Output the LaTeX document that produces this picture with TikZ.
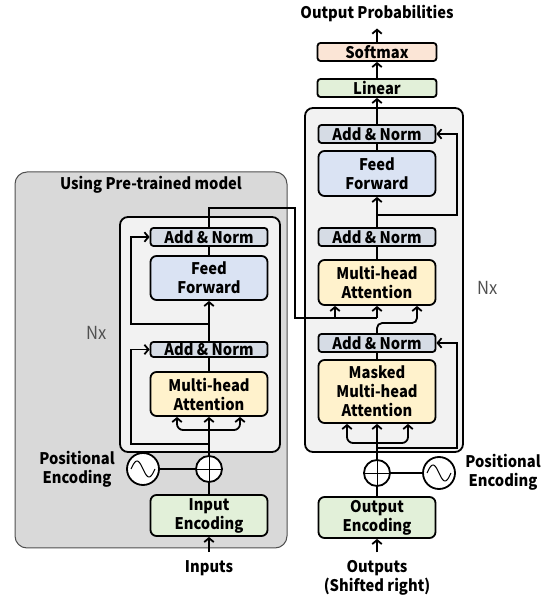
\documentclass[tikz,border=0pt]{standalone}
\usepackage{fontspec}
\setmainfont{Noto Sans CJK JP}[FakeStretch=0.92]
\usetikzlibrary{arrows.meta,positioning}

\definecolor{outergray}{HTML}{D9D9D9}
\definecolor{stackgray}{HTML}{F2F2F2}
\definecolor{normblue}{HTML}{D6DCE5}
\definecolor{ffblue}{HTML}{DAE3F3}
\definecolor{attnyellow}{HTML}{FFF2CC}
\definecolor{embgreen}{HTML}{E2F0D9}
\definecolor{softpeach}{HTML}{FBE5D6}
\definecolor{nxgray}{HTML}{505050}

\tikzset{
  blk/.style={draw,line width=1.8pt,rounded corners=6pt,minimum width=117pt,
    inner sep=0pt,align=center,font=\bfseries\fontsize{16}{19}\selectfont},
  normbox/.style={blk,fill=normblue,minimum height=18pt,rounded corners=3pt},
  ffbox/.style={blk,fill=ffblue,minimum height=44pt},
  attnbox/.style={blk,fill=attnyellow,minimum height=44pt},
  embbox/.style={blk,fill=embgreen,minimum height=41pt},
  lbl/.style={align=center,font=\bfseries\fontsize{16}{19}\selectfont},
  addop/.style={circle,draw,fill=white,line width=1.8pt,minimum size=26pt,inner sep=0pt},
  waveop/.style={circle,draw,fill=white,line width=1.8pt,minimum size=32pt,inner sep=0pt},
  nxlbl/.style={text=nxgray,font=\fontsize{18}{18}\selectfont},
}

\begin{document}
\begin{tikzpicture}[x=1pt,y=1pt,line width=1.8pt,>={Straight Barb[length=4pt,width=9.5pt]}]
  \useasboundingbox (0,0) rectangle (549,599);

  % pre-trained encoder side
  \draw[fill=outergray,draw=nxgray,line width=1pt,rounded corners=12pt] (15,51) rectangle (287,427);
  \node[lbl] (ptitle) at (151,414) {Using Pre-trained model};
  \draw[fill=stackgray,rounded corners=8pt] (120,147) rectangle (280,382);
  \node[nxlbl] (enx) at (97,266) {Nx};

  \node[normbox] (ean2) at (209,362) {Add \& Norm};
  \node[ffbox] (eff) at (209,321) {Feed\\Forward};
  \node[normbox,minimum height=15pt] (ean1) at (209,249.5) {Add \& Norm};
  \node[attnbox] (emha) at (209,205) {Multi-head\\Attention};
  \node[addop] (eadd) at (209,130) {};
  \node[waveop] (ewave) at (143,130) {};
  \node[lbl] (epos) at (77,130) {Positional\\Encoding};
  \node[embbox] (ienc) at (209,83.5) {Input\\Encoding};
  \node[lbl] (inlbl) at (209,31) {Inputs};

  % decoder side
  \node[lbl] (outprob) at (377,585) {Output Probabilities};
  \node[normbox,fill=softpeach,minimum width=119pt] (smax) at (377,547) {Softmax};
  \node[normbox,fill=embgreen,minimum width=119pt] (lin) at (377,511) {Linear};
  \draw[fill=stackgray,rounded corners=8pt] (305,147) rectangle (463,491);
  \node[nxlbl] (dnx) at (488,311) {Nx};

  \node[normbox] (dan3) at (377,465) {Add \& Norm};
  \node[ffbox,minimum height=45pt] (dff) at (377,425.5) {Feed\\Forward};
  \node[normbox] (dan2) at (377,362) {Add \& Norm};
  \node[attnbox,minimum height=45pt] (dmha) at (377,316.5) {Multi-head\\Attention};
  \node[normbox] (dan1) at (377,256) {Add \& Norm};
  \node[attnbox,minimum height=63pt] (dmmha) at (377,207.5) {Masked\\Multi-head\\Attention};
  \node[addop] (dadd) at (377,126) {};
  \node[waveop] (dwave) at (439,126) {};
  \node[lbl] (dpos) at (503,126.5) {Positional\\Encoding};
  \node[embbox] (oenc) at (377,81.5) {Output\\Encoding};
  \node[lbl] (outlbl) at (377,21) {Outputs\\(Shifted right)};

  % plus signs and sine waves
  \foreach \op in {eadd,dadd} {
    \draw[line width=0.8pt] (\op.north) -- (\op.south);
    \draw[line width=0.8pt] (\op.west) -- (\op.east);
  }
  \foreach \op in {ewave,dwave}
    \draw[line width=1pt,shift={(\op.center)}] plot[domain=-12:12,samples=40,smooth] (\x,{8*sin((\x+12)*15)});

  % encoder connections
  \coordinate (efork) at (209,169);
  \coordinate (eres1) at (131,155);
  \coordinate (eres2) at (131,275);
  \coordinate (eturn) at (295,391);
  \coordinate (xattn) at (295,281);
  \draw[->] ([yshift=4pt]inlbl.north) -- (ienc.south);
  \draw (ienc.north) -- (eadd.south);
  \draw (ewave.east) -- (eadd.west);
  \draw[->] (eadd.north) -- (emha.south);
  \draw[->,rounded corners=6pt] (efork) -| ([xshift=-32pt]emha.south);
  \draw[->,rounded corners=6pt] (efork) -| ([xshift=31pt]emha.south);
  \draw[->] (eres1 -| eadd) -- (eres1) |- (ean1.west);
  \draw (emha.north) -- (ean1.south);
  \draw[->] (ean1.north) -- (eff.south);
  \draw[->] (eres2 -| eff) -- (eres2) |- (ean2.west);
  \draw (eff.north) -- (ean2.south);
  \draw (ean2.north) |- (eturn) -- (xattn) -- (xattn -| dmha);
  \draw[->] (xattn -| dmha) -- (dmha.south);
  \draw[->] ([xshift=-42pt]dmha.south |- xattn) -- ([xshift=-42pt]dmha.south);

  % decoder connections
  \coordinate (dfork) at (377,156);
  \coordinate (dres1) at (457,151);
  \coordinate (dres2) at (457,384);
  \draw[->] ([yshift=4pt]outlbl.north) -- (oenc.south);
  \draw (oenc.north) -- (dadd.south);
  \draw (dwave.west) -- (dadd.east);
  \draw[->] (dadd.north) -- (dmmha.south);
  \draw[->,rounded corners=6pt] (dfork) -| ([xshift=-30pt]dmmha.south);
  \draw[->,rounded corners=6pt] (dfork) -| ([xshift=31pt]dmmha.south);
  \draw[->] (dres1 -| dadd) -- (dres1) |- (dan1.east);
  \draw (dmmha.north) -- (dan1.south);
  \draw[->,rounded corners=5pt] (dan1.north) -- ++(0,10) -| ([xshift=40pt]dmha.south);
  \draw (dmha.north) -- (dan2.south);
  \draw[->] (dan2.north) -- (dff.south);
  \draw[->] (dres2 -| dff) -- (dres2) |- (dan3.east);
  \draw (dff.north) -- (dan3.south);
  \draw[->] (dan3.north) -- (lin.south);
  \draw[->] (lin.north) -- (smax.south);
  \draw[->] (smax.north) -- ([yshift=-2pt]outprob.south);
\end{tikzpicture}
\end{document}
